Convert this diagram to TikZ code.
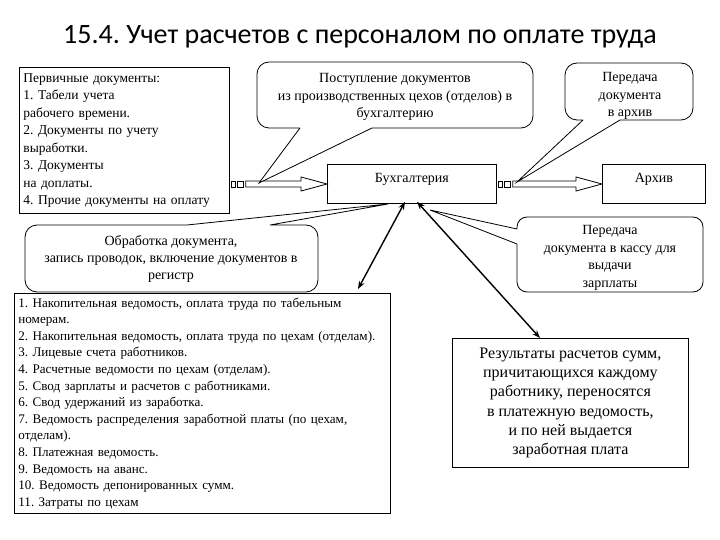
\documentclass[tikz,border=0pt]{standalone}
\usepackage{fontspec}
\setmainfont{Liberation Serif}
\newfontfamily\titlefont{Carlito}
\usetikzlibrary{calc,arrows.meta}
\newcommand\stripedarrow[2]{%
  \draw[fill=white] ($(#1)+(2,-3)$) rectangle ($(#1)+(6,3)$);
  \draw[fill=white] ($(#1)+(8,-3)$) rectangle ($(#1)+(14,3)$);
  \draw[fill=white] ($(#1)+(16,-3)$) -- ($(#2)+(-26,-3)$) -- ($(#2)+(-26,-7)$) -- (#2)
     -- ($(#2)+(-26,7)$) -- ($(#2)+(-26,3)$) -- ($(#1)+(16,3)$) -- cycle;}
\begin{document}
\frenchspacing
\begin{tikzpicture}[x=1pt,y=-1pt,line width=0.8pt,
  box/.style={draw,fill=white,inner sep=0pt},
  body/.style={font=\fontsize{14}{17.4}\selectfont},
  callout/.style={draw,fill=white,line width=0.8pt},
  dbl/.style={{Stealth[length=8pt,width=6pt]}-{Stealth[length=8pt,width=6pt]},line width=1.4pt}]
\useasboundingbox (0,0) rectangle (720,540);

\node (title) at (360,37) {\titlefont\fontsize{28}{32}\selectfont 15.4. Учет расчетов с персоналом по оплате труда};

% primary documents
\node (prim) [box,anchor=north west,minimum width=210,minimum height=146,
  text width=202,align=left,inner xsep=4,font=\fontsize{13.5}{17.5}\selectfont] at (19,67)
  {Первичные документы:\\1. Табели учета\\рабочего времени.\\2. Документы по учету\\выработки.\\3. Документы\\на доплаты.\\4. Прочие документы на оплату};

% accounting and archive
\node (buh) [box,body,anchor=north west,minimum width=169,text height=13,text depth=16,inner ysep=5]
  at (327,164) {Бухгалтерия};
\node (arch) [box,body,anchor=north west,minimum width=103,text height=13,text depth=16,inner ysep=5]
  at (602,164) {Архив};

\coordinate (a1s) at (prim.east |- 0,184);
\coordinate (a1e) at (buh.west |- 0,184);
\coordinate (a2s) at (buh.east |- 0,184);
\coordinate (a2e) at (arch.west |- 0,184);
\stripedarrow{a1s}{a1e}
\stripedarrow{a2s}{a2e}

% callout 1
\coordinate (t1) at (259,183);
\draw[callout] (300,128) -- (t1) -- (372,128) -- (373,128) [rounded corners=12pt] -- (533,128)
  -- (533,62) -- (257,62) -- (257,128) -- (300,128);
\node (c1) [body,align=center] at (395,97)
  {Поступление документов\\из производственных цехов (отделов) в\\бухгалтерию};

% callout 2
\coordinate (t2) at (517,182);
\draw[callout] (583,120) -- (t2) -- (620,120) -- (621,120) [rounded corners=12pt] -- (693,120)
  -- (693,63) -- (565,63) -- (565,120) -- (583,120);
\node (c2) [body,align=center] at (630,96) {Передача\\документа\\в архив};

% callout 3
\coordinate (t3) at (388,204);
\draw[callout] (187,225) -- (t3) -- (270,225) -- (271,225) [rounded corners=12pt] -- (318,225)
  -- (318,292) -- (25,292) -- (25,225) -- (187,225);
\node (c3) [body,align=center] at (171,259)
  {Обработка документа,\\запись проводок, включение документов в\\регистр};

% callout 4
\coordinate (t4) at (430,210);
\draw[callout] (517,244) -- (t4) -- (517,229) -- (517,228) [rounded corners=10pt] -- (517,217)
  -- (703,217) -- (703,292) -- (517,292) -- (517,244);
\node (c4) [body,align=center] at (610,258)
  {Передача\\документа в кассу для\\выдачи\\зарплаты};

% list of registers
\node (list) [box,anchor=north west,minimum width=374,minimum height=220,text width=368,
  align=left,inner xsep=4,font=\fontsize{13.1}{16.6}\selectfont] at (14,293)
  {1. Накопительная ведомость, оплата труда по табельным\\номерам.\\
   \mbox{2. Накопительная ведомость, оплата труда по цехам (отделам).}\\
   3. Лицевые счета работников.\\4. Расчетные ведомости по цехам (отделам).\\
   5. Свод зарплаты и расчетов с работниками.\\6. Свод удержаний из заработка.\\
   7. Ведомость распределения заработной платы (по цехам,\\отделам).\\
   8. Платежная ведомость.\\9. Ведомость на аванс.\\10. Ведомость депонированных сумм.\\
   11. Затраты по цехам};

% result
\node (res) [box,anchor=north west,minimum width=236,minimum height=129,align=center,
  font=\fontsize{16}{19.2}\selectfont] at (452,338)
  {Результаты расчетов сумм,\\причитающихся каждому\\работнику, переносятся\\в платежную ведомость,\\и по ней выдается\\заработная плата};

% double arrows
\coordinate (d1a) at ([xshift=78]buh.south west);
\coordinate (d2a) at ([xshift=90]buh.south west);
\draw[dbl] ([yshift=2]d1a) -- (358,289);
\draw[dbl] ([yshift=2]d2a) -- (res.north west -| 540,0);
\end{tikzpicture}
\end{document}
